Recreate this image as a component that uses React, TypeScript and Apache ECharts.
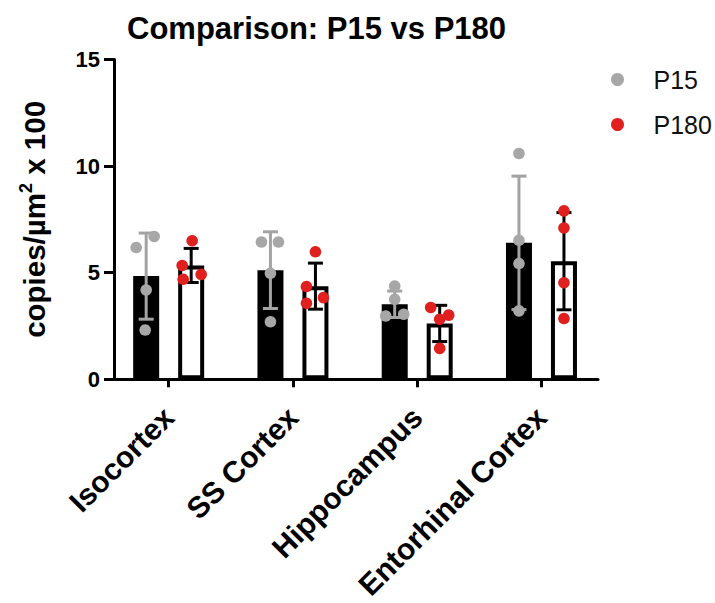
import React, { useEffect, useRef } from "react";
import * as echarts from "echarts";

const categories = ["Isocortex", "SS Cortex", "Hippocampus", "Entorhinal Cortex"];
const yTicks = [0, 5, 10, 15];

const p15Mean = [4.84, 5.12, 3.52, 6.4];
const p15SD = [2.02, 1.8, 0.62, 3.13];
const p180Mean = [5.34, 4.37, 2.62, 5.54];
const p180SD = [0.8, 1.08, 0.85, 2.28];

const p15Points = [
  [6.18, 6.7, 4.19, 2.31],
  [6.44, 6.44, 4.97, 2.7],
  [4.37, 3.75, 2.97, 3.05],
  [10.59, 6.52, 5.43, 3.21],
];
const p180Points = [
  [6.5, 5.34, 4.69, 4.92],
  [5.98, 4.35, 3.83, 3.57],
  [3.37, 2.82, 3.01, 1.45],
  [7.9, 7.1, 4.53, 2.85],
];
// horizontal scatter jitter (pixels) of each dot
const p15Jitter = [
  [-10, 8, 0, -1],
  [-9, 8, 0, 0],
  [0, 0, -9, 9],
  [0, 0, 0, 0],
];
const p180Jitter = [
  [1, -9, -8, 10],
  [0, -9, 8, -9],
  [-9, 0, 9, 0],
  [0, 0, 0, 0],
];

const FONT = "Liberation Sans, Arial, Helvetica, sans-serif";
const GROUP_OFF = 22.5;
const P15_DOT = "#a7a7a7";
const P15_ERR = "#a3a3a3";
const P180_DOT = "#e01f1f";

function errorSeries(name: string, means: number[], sds: number[], off: number, color: string) {
  return {
    type: "custom",
    name,
    z: 5,
    encode: { x: 0, y: 1 },
    data: means.map((m, i) => [i, m, sds[i]]),
    renderItem: (params: any, api: any) => {
      const x = api.value(0);
      const m = api.value(1);
      const s = api.value(2);
      const top = api.coord([x, m + s]);
      const bot = api.coord([x, m - s]);
      const cx = top[0] + off;
      const cap = 7.5;
      const style = { stroke: color, lineWidth: 3 };
      return {
        type: "group",
        children: [
          { type: "line", shape: { x1: cx, y1: top[1], x2: cx, y2: bot[1] }, style },
          { type: "line", shape: { x1: cx - cap, y1: top[1], x2: cx + cap, y2: top[1] }, style },
          { type: "line", shape: { x1: cx - cap, y1: bot[1], x2: cx + cap, y2: bot[1] }, style },
        ],
      };
    },
  };
}

function dotSeries(name: string, pts: number[][], jit: number[][], off: number, color: string) {
  const data: number[][] = [];
  pts.forEach((row, i) => row.forEach((v, k) => data.push([i, v, jit[i][k]])));
  return {
    type: "custom",
    name,
    z: 10,
    itemStyle: { color },
    encode: { x: 0, y: 1 },
    data,
    renderItem: (params: any, api: any) => {
      const p = api.coord([api.value(0), api.value(1)]);
      return {
        type: "circle",
        shape: { cx: p[0] + off + api.value(2), cy: p[1], r: 5.8 },
        style: { fill: color },
      };
    },
  };
}

export default function App() {
  const ref = useRef<HTMLDivElement>(null);
  useEffect(() => {
    if (!ref.current) return;
    const chart = echarts.init(ref.current, null, { renderer: "svg" });
    chart.setOption({
      animation: false,
      backgroundColor: "#ffffff",
      title: {
        text: "Comparison: P15 vs P180",
        left: 122,
        top: 8,
        textStyle: { fontFamily: FONT, fontSize: 31, fontWeight: "bold", color: "#000" },
      },
      legend: {
        orient: "vertical",
        left: 606,
        top: 62,
        itemWidth: 62,
        itemHeight: 13,
        itemGap: 20,
        selectedMode: false,
        textStyle: { fontFamily: FONT, fontSize: 25, color: "#111" },
        data: [
          { name: "P15", icon: "circle", itemStyle: { color: P15_DOT } },
          { name: "P180", icon: "circle", itemStyle: { color: P180_DOT } },
        ],
      },
      grid: { left: 114, right: 117, top: 59.5, bottom: 222.5, containLabel: false },
      xAxis: {
        type: "value",
        min: -0.44,
        max: 3.455,
        splitLine: { show: false },
        axisLine: { show: true, onZero: false, lineStyle: { color: "#000", width: 3 } },
        axisTick: { show: true, customValues: [0, 1, 2, 3], length: 8, lineStyle: { color: "#000", width: 3 } },
        axisLabel: {
          customValues: [0, 1, 2, 3],
          formatter: (v: number) => categories[Math.round(v)] ?? "",
          rotate: 45,
          margin: 33,
          fontFamily: FONT,
          fontSize: 30,
          fontWeight: "bold",
          color: "#000",
        },
      },
      yAxis: {
        type: "value",
        min: 0,
        max: 15,
        interval: 5,
        splitLine: { show: false },
        axisLine: { show: true, onZero: false, lineStyle: { color: "#000", width: 3 } },
        axisTick: { show: true, length: 10, lineStyle: { color: "#000", width: 3 } },
        axisLabel: {
          margin: 14,
          fontFamily: FONT,
          fontSize: 22,
          fontWeight: "bold",
          color: "#000",
          formatter: (v: number) => (yTicks.includes(v) ? String(v) : ""),
        },
        name: "{a|copies/µm}{s|2}{a| x 100}",
        nameLocation: "middle",
        nameRotate: 90,
        nameGap: 63,
        nameTextStyle: {
          rich: {
            a: { fontFamily: FONT, fontSize: 29.5, fontWeight: "bold", color: "#000", lineHeight: 34 },
            s: { fontFamily: FONT, fontSize: 18, fontWeight: "bold", color: "#000", verticalAlign: "top", lineHeight: 18 },
          },
        },
      },
      series: [
        {
          type: "bar",
          name: "P15 mean",
          z: 2,
          barWidth: 26,
          barGap: "73%",
          itemStyle: { color: "#000", borderColor: "#000", borderWidth: 4 },
          data: p15Mean.map((m, i) => [i, m]),
        },
        {
          type: "bar",
          name: "P180 mean",
          z: 2,
          barWidth: 26,
          barGap: "73%",
          itemStyle: { color: "#fff", borderColor: "#000", borderWidth: 4 },
          data: p180Mean.map((m, i) => [i, m]),
        },
        errorSeries("P15 SD", p15Mean, p15SD, -GROUP_OFF, P15_ERR),
        errorSeries("P180 SD", p180Mean, p180SD, GROUP_OFF, "#000"),
        dotSeries("P15", p15Points, p15Jitter, -GROUP_OFF, P15_DOT),
        dotSeries("P180", p180Points, p180Jitter, GROUP_OFF, P180_DOT),
      ],
    });
    return () => chart.dispose();
  }, []);
  return (
    <div
      ref={ref}
      style={{ position: "fixed", left: 0, top: 0, width: 715, height: 603, background: "#fff" }}
    />
  );
}
